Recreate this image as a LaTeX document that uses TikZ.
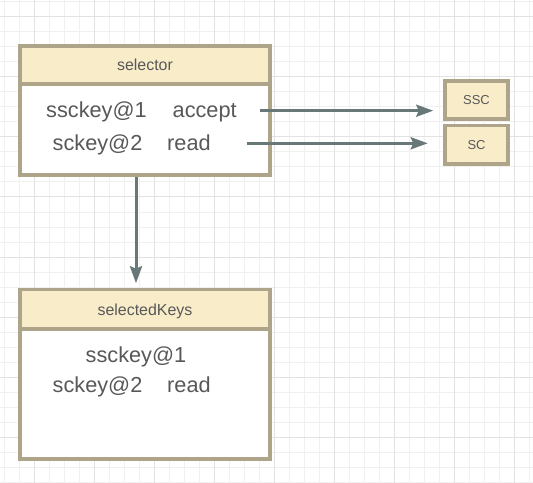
\documentclass[tikz,border=0pt]{standalone}
\usepackage{fontspec}
\setmainfont{Liberation Sans}
\usetikzlibrary{arrows.meta}
\definecolor{gridminor}{HTML}{F0F0F0}
\definecolor{gridmajor}{HTML}{E2E2E2}
\definecolor{bordc}{HTML}{AEA48A}
\definecolor{headfill}{HTML}{F8ECC9}
\definecolor{arrc}{HTML}{687878}
\definecolor{txtc}{HTML}{585858}
\begin{document}
\begin{tikzpicture}[x=1bp,y=-1bp,
  box/.style={draw=bordc, line width=3.5bp, inner sep=0pt, minimum width=250bp},
  headbox/.style={box, fill=headfill, text=txtc, font=\fontsize{16}{16}\selectfont, text height=11.5bp, text depth=0pt},
  bodybox/.style={box, fill=white},
  smallbox/.style={draw=bordc, line width=3.5bp, fill=headfill, inner sep=0pt, minimum width=63bp, text=txtc, font=\fontsize{13}{13}\selectfont, text height=9.3bp, text depth=0pt},
  txt/.style={inner sep=0pt, anchor=base west, text=txtc, font=\fontsize{21.8}{22}\selectfont},
  arr/.style={draw=arrc, line width=3bp, -{Stealth[length=17bp,width=12bp,inset=2.5bp]}}
]
\useasboundingbox (0,0) rectangle (533,483);
\fill[white] (0,0) rectangle (533,483);
% grid
\foreach \x in {4,19,...,529} \draw[gridminor, line width=1bp] (\x,0) -- (\x,483);
\foreach \y in {2,17,...,482} \draw[gridminor, line width=1bp] (0,\y) -- (533,\y);
\foreach \x in {34,94,...,529} \draw[gridmajor, line width=1bp] (\x,0) -- (\x,483);
\foreach \y in {17,77,...,482} \draw[gridmajor, line width=1bp] (0,\y) -- (533,\y);

% selector
\node[bodybox, minimum height=91bp] (selb) at (145,129.5) {};
\node[headbox, minimum height=38bp] (selh) at (145,65) {selector};
\node[txt] (s1) at (46,117.3) {ssckey@1};
\node[txt] (s1b) at (172.5,117.3) {accept};
\node[txt] (s2) at (52.5,150.7) {sckey@2};
\node[txt] (s2b) at (167,150.7) {read};

% selectedKeys
\node[bodybox, minimum height=130bp] (kb) at (145,394) {};
\node[headbox, minimum height=39.5bp] (kh) at (145,309.25) {selectedKeys};
\node[txt] (k1) at (85.5,362.3) {ssckey@1};
\node[txt] (k2) at (52.5,392.7) {sckey@2};
\node[txt] (k2b) at (167,392.7) {read};

% small boxes
\node[smallbox, minimum height=38bp] (ssc) at (476.5,100) {SSC};
\node[smallbox, minimum height=38.7bp] (sc) at (476.5,144.65) {SC};

% connectors
\coordinate (a1) at (260,110.7);
\coordinate (a2) at (246.7,143.3);
\coordinate (vx) at (136,0);
\draw[arr, shorten >=10bp] (a1) -- (a1 -| ssc.west);
\draw[arr, shorten >=15.5bp] (a2) -- (a2 -| sc.west);
\draw[arr, shorten >=4.5bp] (selb.south -| vx) -- (kh.north -| vx);
\end{tikzpicture}
\end{document}
